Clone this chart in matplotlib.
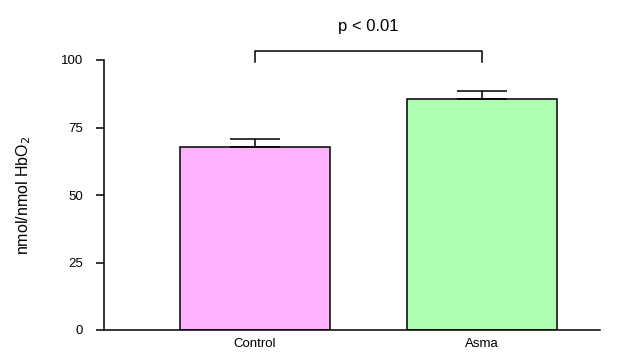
import matplotlib
matplotlib.use("Agg")
import matplotlib.pyplot as plt

groups = ["Control", "Asma"]
means = [67.7, 85.4]
errors = [2.9, 3.1]
colors = ["#FFB3FF", "#B0FFB0"]
y_ticks = [0, 25, 50, 75, 100]
p_text = "p < 0.01"

plt.rcParams['font.family'] = ['Liberation Sans', 'DejaVu Sans']

fig = plt.figure(figsize=(6.26, 3.52), dpi=100)
ax = fig.add_axes([104 / 626, 22 / 352, 496 / 626, 270 / 352])

x = [0, 1]
ax.bar(x, means, width=0.66, color=colors, edgecolor='black', linewidth=1.1, zorder=2)
ax.errorbar(x, means, yerr=[[0, 0], errors], fmt='none', ecolor='black',
            elinewidth=1.1, capsize=18, capthick=1.1, zorder=3)

# significance bracket
top = 103.4
ax.plot([0, 0, 1, 1], [99.4, top, top, 99.4], color='black', lw=1.1, clip_on=False)
ax.text(0.5, 112.5, p_text, ha='center', va='center', fontsize=12)

ax.set_xlim(-0.665, 1.52)
ax.set_ylim(0, 100)
ax.set_yticks(y_ticks)
ax.set_yticklabels([str(t) for t in y_ticks], fontsize=9.5)
ax.set_xticks(x)
ax.set_xticklabels(groups, fontsize=9.5)
ax.tick_params(axis='x', length=0, pad=6)
ax.tick_params(axis='y', length=6, width=1.1, pad=9)
ax.set_ylabel("nmol/nmol HbO$_2$", fontsize=11.5, labelpad=20)

for s in ['top', 'right']:
    ax.spines[s].set_visible(False)
for s in ['left', 'bottom']:
    ax.spines[s].set_linewidth(1.1)

fig.savefig("out.png", dpi=100)
